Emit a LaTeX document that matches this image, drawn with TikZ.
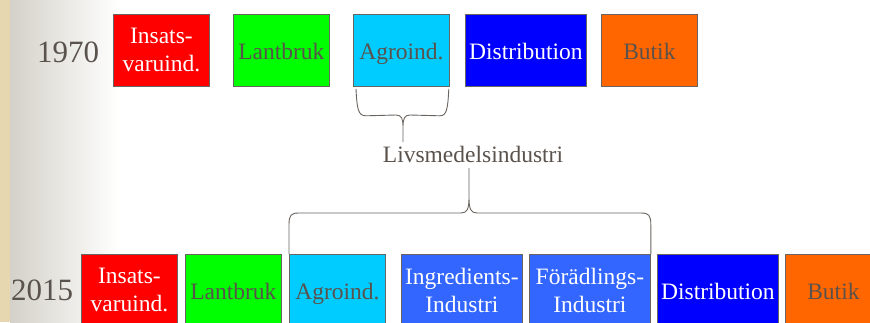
\documentclass[tikz,border=0pt]{standalone}
\usepackage{fontspec}
\setmainfont{Liberation Serif}
\usetikzlibrary{calc}
\definecolor{txt}{HTML}{5A524C}
\definecolor{bord}{HTML}{6A6560}
\definecolor{parch}{HTML}{E6D7B0}
\definecolor{shadeL}{HTML}{D3D1C8}
\definecolor{cRed}{HTML}{FF0000}
\definecolor{cGreen}{HTML}{00FF00}
\definecolor{cCyan}{HTML}{00CCFF}
\definecolor{cBlue}{HTML}{0000FF}
\definecolor{cOrange}{HTML}{FF6600}
\definecolor{cMid}{HTML}{3366FF}
\begin{document}
\begin{tikzpicture}[x=1pt,y=-1pt,
  box/.style={draw=bord, line width=0.8pt, anchor=north west, minimum height=72pt,
    minimum width=96pt, inner sep=0pt, align=center,
    font=\fontsize{23.5}{28}\selectfont},
  oneline/.style={text height=22pt, text depth=4pt},
  wide/.style={minimum width=121pt},
  lighttxt/.style={text=white},
  darktxt/.style={text=txt},
  year/.style={text=txt, font=\fontsize{31}{36}\selectfont},
  lbl/.style={text=txt, font=\fontsize{23.5}{28}\selectfont},
  brc/.style={draw=bord, line width=0.9pt}]
\useasboundingbox (0,0) rectangle (870,322);
\clip (0,0) rectangle (870,322);
\fill[white] (0,0) rectangle (870,322);
\shade[left color=shadeL, right color=white] (10,0) rectangle (118,322);
\fill[parch] (0,0) rectangle (10,322);

% 1970 row
\node[year] (y1) at (68,52) {1970};
\node[box, fill=cRed, lighttxt] (t1) at (113,14) {Insats-\\varuind.};
\node[box, oneline, fill=cGreen, darktxt] (t2) at (233,14) {Lantbruk};
\node[box, oneline, fill=cCyan, darktxt] (t3) at (353,14) {Agroind.};
\node[box, oneline, wide, fill=cBlue, lighttxt] (t4) at (465,14) {Distribution};
\node[box, oneline, fill=cOrange, darktxt] (t5) at (601,14) {Butik};

% label
\node[lbl] (livs) at (473,154) {Livsmedelsindustri};

% 2015 row
\node[year] (y2) at (42,290) {2015};
\node[box, fill=cRed, lighttxt] (b1) at (81,254) {Insats-\\varuind.};
\node[box, oneline, fill=cGreen, darktxt] (b2) at (185,254) {Lantbruk};
\node[box, oneline, fill=cCyan, darktxt] (b3) at (289,254) {Agroind.};
\node[box, wide, fill=cMid, lighttxt] (b4) at (401,254) {Ingredients-\\Industri};
\node[box, wide, fill=cMid, lighttxt] (b5) at (529,254) {Förädlings-\\Industri};
\node[box, oneline, wide, fill=cBlue, lighttxt] (b6) at (657,254) {Distribution};
\node[box, oneline, fill=cOrange, darktxt] (b7) at (785,254) {Butik};

% top brace under Agroind.
\coordinate (tbl) at ($(t3.south west)+(3,2)$);
\coordinate (tbr) at ($(t3.south east)+(-1,2)$);
\coordinate (tbt) at (403,142);
\path[brc] (tbl) .. controls ($(tbl)+(1,20)$) and ($(tbl)+(2,27)$) .. ($(tbl)+(10,27)$)
  -- (396,115) .. controls (402,115) and (403,119) .. (403,128) -- (tbt)
  (403,128) .. controls (403,119) and (404,115) .. (410,115)
  -- ($(tbr)+(-9,27)$) .. controls ($(tbr)+(-2,27)$) and ($(tbr)+(-1,20)$) .. (tbr);

% bottom brace over the food industry boxes
\coordinate (bbl) at (b3.north west);
\coordinate (bbr) at (b5.north east);
\coordinate (bbt) at (469,168);
\path[brc] (bbl) -- ($(bbl)+(0,-29)$) .. controls ($(bbl)+(0,-39)$) and ($(bbl)+(2,-41)$) .. ($(bbl)+(10,-41)$)
  -- (461,213) .. controls (467,213) and (469,209) .. (469,198) -- (bbt)
  (469,198) .. controls (469,209) and (471,213) .. (477,213)
  -- ($(bbr)+(-10,-41)$) .. controls ($(bbr)+(-2,-41)$) and ($(bbr)+(0,-39)$) .. ($(bbr)+(0,-29)$) -- (bbr);
\end{tikzpicture}
\end{document}
